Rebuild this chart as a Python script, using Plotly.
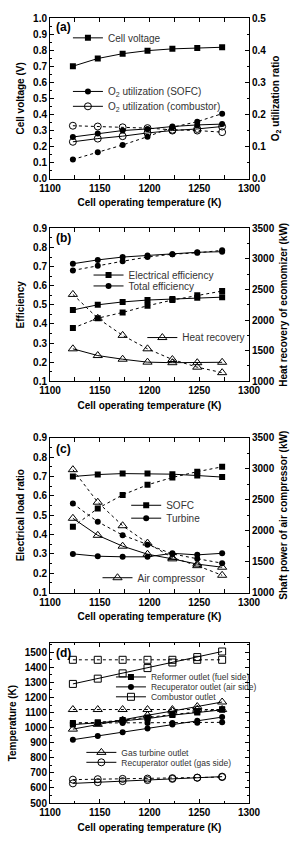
import plotly.graph_objects as go

T = [1123, 1148, 1173, 1198, 1223, 1248, 1273]

# Panel (a)
cell_voltage = [0.70, 0.748, 0.778, 0.797, 0.808, 0.814, 0.818]
o2_sofc_solid = [0.13, 0.141, 0.15, 0.155, 0.1625, 0.1675, 0.17]
o2_sofc_dash = [0.06, 0.0825, 0.105, 0.131, 0.16, 0.1775, 0.2025]
o2_comb_solid = [0.115, 0.125, 0.1325, 0.1425, 0.15, 0.155, 0.1625]
o2_comb_dash = [0.165, 0.1625, 0.16, 0.1575, 0.1525, 0.15, 0.145]

# Panel (b)
elec_eff_solid = [0.473, 0.50, 0.515, 0.525, 0.53, 0.537, 0.54]
elec_eff_dash = [0.378, 0.43, 0.46, 0.495, 0.525, 0.55, 0.572]
tot_eff_solid = [0.715, 0.735, 0.75, 0.758, 0.765, 0.775, 0.778]
tot_eff_dash = [0.68, 0.705, 0.728, 0.75, 0.765, 0.772, 0.785]
heat_rec_solid = [1530, 1420, 1360, 1312, 1303, 1303, 1310]
heat_rec_dash = [2420, 2030, 1750, 1530, 1355, 1230, 1140]

# Panel (c)
sofc_solid = [0.70, 0.71, 0.715, 0.715, 0.712, 0.705, 0.697]
sofc_dash = [0.44, 0.535, 0.605, 0.657, 0.695, 0.725, 0.75]
turb_solid = [0.30, 0.288, 0.285, 0.285, 0.303, 0.295, 0.303]
turb_dash = [0.56, 0.466, 0.397, 0.347, 0.30, 0.275, 0.252]
comp_solid = [2200, 1925, 1750, 1620, 1545, 1460, 1410]
comp_dash = [2985, 2460, 2080, 1800, 1565, 1435, 1280]

# Panel (d)
ref_solid = [1020, 1030, 1045, 1060, 1083, 1100, 1118]
ref_dash = [1030, 1035, 1050, 1068, 1088, 1105, 1122]
recair_solid = [920, 945, 970, 995, 1020, 1045, 1070]
recair_dash = [1030, 1030, 1030, 1030, 1030, 1033, 1035]
comb_solid = [1290, 1325, 1360, 1395, 1432, 1468, 1505]
comb_dash = [1450, 1450, 1450, 1450, 1450, 1450, 1450]
gt_solid = [990, 1022, 1050, 1082, 1110, 1140, 1170]
gt_dash = [1120, 1120, 1120, 1120, 1120, 1122, 1120]
recgas_solid = [630, 638, 645, 652, 660, 668, 675]
recgas_dash = [655, 658, 660, 662, 665, 668, 672]

XTITLE = "Cell operating temperature (K)"

fig = go.Figure()

FILLED = {"square": dict(symbol="square", size=6, color="black"),
          "circle": dict(symbol="circle", size=6, color="black"),
          "open_circle": dict(symbol="circle-open", size=7, color="black", line=dict(width=1)),
          "open_square": dict(symbol="square-open", size=7, color="black", line=dict(width=1)),
          "open_tri": dict(symbol="triangle-up-open", size=8, color="black", line=dict(width=1))}


def pair(name, solid, dash, marker, xa, ya, legend):
    fig.add_trace(go.Scatter(x=T, y=dash, mode="lines+markers", xaxis=xa, yaxis=ya,
                             line=dict(color="black", width=1, dash="dot"),
                             marker=FILLED[marker], showlegend=False, name=name))
    fig.add_trace(go.Scatter(x=T, y=solid, mode="lines+markers", xaxis=xa, yaxis=ya,
                             line=dict(color="black", width=1),
                             marker=FILLED[marker], name=name, legend=legend, showlegend=True))


# (a)
fig.add_trace(go.Scatter(x=T, y=cell_voltage, mode="lines+markers", xaxis="x", yaxis="y",
                         line=dict(color="black", width=1), marker=FILLED["square"],
                         name="Cell voltage", legend="legend"))
pair("O<sub>2</sub> utilization (SOFC)", o2_sofc_solid, o2_sofc_dash, "circle", "x", "y2", "legend2")
pair("O<sub>2</sub> utilization (combustor)", o2_comb_solid, o2_comb_dash, "open_circle", "x", "y2", "legend3")
# (b)
pair("Electrical efficiency", elec_eff_solid, elec_eff_dash, "square", "x2", "y3", "legend4")
pair("Total efficiency", tot_eff_solid, tot_eff_dash, "circle", "x2", "y3", "legend5")
pair("Heat recovery", heat_rec_solid, heat_rec_dash, "open_tri", "x2", "y4", "legend6")
# (c)
pair("SOFC", sofc_solid, sofc_dash, "square", "x3", "y5", "legend7")
pair("Turbine", turb_solid, turb_dash, "circle", "x3", "y5", "legend8")
pair("Air compressor", comp_solid, comp_dash, "open_tri", "x3", "y6", "legend9")
# (d)
pair("Reformer outlet (fuel side)", ref_solid, ref_dash, "square", "x4", "y7", "legend10")
pair("Recuperator outlet (air side)", recair_solid, recair_dash, "circle", "x4", "y7", "legend11")
pair("Combustor outlet", comb_solid, comb_dash, "open_square", "x4", "y7", "legend12")
pair("Gas turbine outlet", gt_solid, gt_dash, "open_tri", "x4", "y7", "legend13")
pair("Recuperator outlet (gas side)", recgas_solid, recgas_dash, "open_circle", "x4", "y7", "legend14")

FONT = "Liberation Sans, Arial, sans-serif"
tickfont = dict(family=FONT, size=10, color="black", weight="bold")
titlefont = dict(family=FONT, size=10, color="black", weight="bold")

L, R, TOP, BOT = 40, 262, 13, 804


def py(p):
    return (BOT - p) / (BOT - TOP)


def px(p):
    return (p - L) / (R - L)


doms = {"a": [py(175), 1.0], "b": [py(379), py(225)], "c": [py(592), py(436)], "d": [0.0, py(643)]}

def xax(dom, anchor):
    return dict(domain=[0, 1], anchor=anchor, range=[1100, 1300], dtick=50, tick0=1100,
                ticks="inside", ticklen=4, tickcolor="black", showline=True, linecolor="black",
                linewidth=1, mirror="allticks", showgrid=False, zeroline=False, tickfont=tickfont,
                minor=dict(ticks="inside", ticklen=2, dtick=25, tickcolor="black"),
                title=dict(text=XTITLE, font=titlefont, standoff=6))

def yax(dom, anchor, rng, dtick, minor, fmt, title, side="left", overlay=None, mirror=False, standoff=6):
    d = dict(domain=dom, anchor=anchor, range=rng, dtick=dtick, tick0=rng[0], side=side,
             ticks="inside", ticklen=4, tickcolor="black", showline=True, linecolor="black",
             linewidth=1, mirror=mirror, showgrid=False, zeroline=False, tickfont=tickfont,
             tickformat=fmt, minor=dict(ticks="inside", ticklen=2, dtick=minor, tickcolor="black"),
             title=dict(text=title, font=titlefont, standoff=standoff))
    if overlay:
        d["overlaying"] = overlay
    return d

layout = dict(
    width=300, height=843, margin=dict(l=L, r=300 - R, t=TOP, b=843 - BOT),
    paper_bgcolor="white", plot_bgcolor="white", showlegend=True,
    xaxis=xax(doms["a"], "y"), xaxis2=xax(doms["b"], "y3"),
    xaxis3=xax(doms["c"], "y5"), xaxis4=xax(doms["d"], "y7"),
    yaxis=yax(doms["a"], "x", [0, 1.0], 0.1, 0.05, ".1f", "Cell voltage (V)"),
    yaxis2=yax(doms["a"], "x", [0, 0.5], 0.1, 0.05, ".1f", "O<sub>2</sub> utilization ratio", side="right", overlay="y"),
    yaxis3=yax(doms["b"], "x2", [0.1, 0.9], 0.1, 0.05, ".1f", "Efficiency"),
    yaxis4=yax(doms["b"], "x2", [1000, 3500], 500, 250, "d", "Heat recovery of ecomomizer (kW)", side="right", overlay="y3"),
    yaxis5=yax(doms["c"], "x3", [0.1, 0.9], 0.1, 0.05, ".1f", "Electrical load ratio"),
    yaxis6=yax(doms["c"], "x3", [1000, 3500], 500, 250, "d", "Shaft power of air compressor (kW)", side="right", overlay="y5"),
    yaxis7=yax(doms["d"], "x4", [500, 1560], 100, 50, "d", "Temperature (K)", mirror="allticks"),
)
layout["xaxis"]["domain"] = [0, 1]
for k, dk in [("xaxis", "a"), ("xaxis2", "b"), ("xaxis3", "c"), ("xaxis4", "d")]:
    pass

legend_pos = {
    "legend": (100, 33, 10), "legend2": (100, 87, 10), "legend3": (100, 102, 10),
    "legend4": (123, 272, 10), "legend5": (123, 283, 10), "legend6": (183, 335, 10),
    "legend7": (165, 504, 10), "legend8": (165, 517, 10), "legend9": (133, 577, 10),
    "legend10": (148, 677, 8.5), "legend11": (148, 687, 8.5), "legend12": (148, 697, 8.5),
    "legend13": (115, 753, 8.5), "legend14": (115, 763, 8.5),
}
for k, (tx, ty, fs) in legend_pos.items():
    layout[k] = dict(x=px(tx - 40), y=py(ty), xanchor="left", yanchor="middle",
                     bgcolor="rgba(0,0,0,0)", borderwidth=0,
                     font=dict(family=FONT, size=fs, color="#333"))

annos = []
for lab, yy in [("(a)", 22), ("(b)", 235), ("(c)", 447), ("(d)", 653)]:
    annos.append(dict(text=lab, x=px(44), y=py(yy), xref="paper", yref="paper",
                      xanchor="left", yanchor="middle", showarrow=False,
                      font=dict(family=FONT, size=12, color="black", weight="bold")))
layout["annotations"] = annos

fig.update_layout(**layout)
fig.write_html("out.html")
